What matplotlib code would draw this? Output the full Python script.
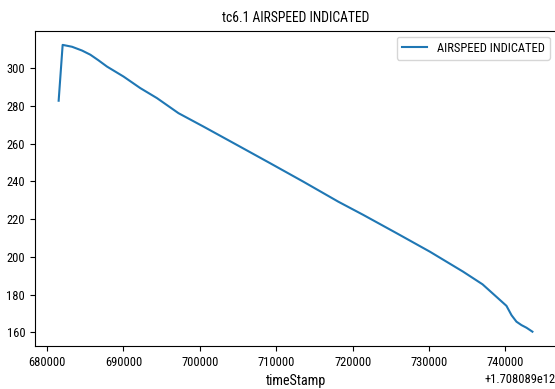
import matplotlib
matplotlib.use('Agg')
import matplotlib.pyplot as plt

# narrow font first, the reference text is condensed
plt.rcParams['font.family'] = ['Roboto Condensed', 'Liberation Sans']
plt.rcParams['font.stretch'] = 'condensed'

# timestamps (ms) relative to base
base = 1708089000000
t_offset = [681516, 682039, 683268, 684575, 685660, 686700, 687843, 690013,
            692196, 694379, 697203, 700471, 704837, 709190, 713543, 718118,
            721386, 725752, 730105, 734458, 737000, 739033, 740130, 740800,
            741440, 742090, 742750, 743530]
airspeed = [282.7, 312.3, 311.3, 309.3, 307.1, 304.2, 300.8, 295.5,
            289.4, 284.1, 276.1, 269.0, 259.3, 249.6, 239.8, 229.2,
            222.2, 212.5, 202.7, 192.1, 185.4, 178.0, 174.0, 169.0,
            165.6, 163.8, 162.4, 160.3]

t = [base + v for v in t_offset]

fig = plt.figure(figsize=(5.55, 3.89), dpi=100)
ax = fig.add_axes([0.063, 0.1105, 0.939, 0.811])

ax.plot(t, airspeed, color='#1f77b4', linewidth=1.5, label='AIRSPEED INDICATED')

ax.set_title('tc6.1 AIRSPEED INDICATED', fontsize=9.8)
ax.set_xlabel('timeStamp', fontsize=10.2)
ax.tick_params(labelsize=9)
ax.xaxis.get_offset_text().set_fontsize(9)
ax.legend(fontsize=9)

fig.savefig('out.png', dpi=100)
